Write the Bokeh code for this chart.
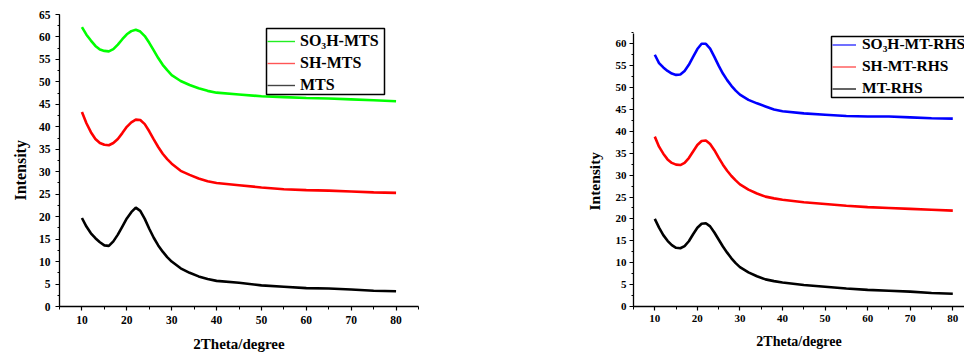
from bokeh.plotting import figure
from bokeh.layouts import row
from bokeh.models import Range1d, SingleIntervalTicker, FixedTicker, Legend, LegendItem, Title
from bokeh.embed import file_html
from bokeh.resources import INLINE

# ---------------- data ----------------
two_theta = [10, 11, 12, 13, 14, 15, 16, 17, 18, 19, 20, 21, 22, 23, 24, 25, 26, 27, 28, 29, 30,
             32, 34, 36, 38, 40, 45, 50, 55, 60, 65, 70, 75, 80]

so3h_mts = [62.2, 60.5, 59.2, 58.0, 57.2, 56.9, 56.8, 57.3, 58.3, 59.5, 60.6, 61.3, 61.6, 61.2, 60.2,
            58.7, 57.0, 55.3, 53.8, 52.6, 51.5, 50.2, 49.3, 48.6, 48.0, 47.6, 47.2, 46.8, 46.6, 46.4,
            46.3, 46.1, 45.9, 45.7]
sh_mts = [43.3, 40.8, 38.8, 37.3, 36.4, 36.0, 35.9, 36.4, 37.3, 38.6, 40.0, 41.0, 41.6, 41.5, 40.6,
          39.0, 37.2, 35.5, 34.0, 32.8, 31.8, 30.2, 29.3, 28.5, 27.9, 27.5, 27.0, 26.5, 26.1, 25.9,
          25.8, 25.6, 25.4, 25.3]
mts = [19.7, 17.8, 16.3, 15.2, 14.3, 13.6, 13.5, 14.5, 16.0, 17.8, 19.6, 21.0, 22.0, 21.3, 19.5,
       17.3, 15.3, 13.6, 12.2, 11.0, 10.0, 8.5, 7.5, 6.7, 6.1, 5.7, 5.3, 4.7, 4.4, 4.1, 4.0, 3.8,
       3.5, 3.4]

so3h_mt_rhs = [57.5, 55.6, 54.6, 53.8, 53.2, 52.9, 53.0, 53.8, 55.2, 57.0, 58.8, 60.0, 60.0, 58.9,
               57.0, 55.0, 53.2, 51.7, 50.4, 49.3, 48.4, 47.2, 46.4, 45.7, 45.0, 44.6, 44.1, 43.8,
               43.5, 43.4, 43.4, 43.2, 43.0, 42.9]
sh_mt_rhs = [38.8, 36.5, 34.9, 33.6, 32.8, 32.4, 32.3, 32.8, 33.9, 35.4, 36.9, 37.8, 37.9, 37.1,
             35.7, 34.0, 32.4, 31.0, 29.8, 28.8, 27.9, 26.7, 25.8, 25.1, 24.7, 24.4, 23.8, 23.4,
             23.0, 22.7, 22.5, 22.3, 22.1, 21.9]
mt_rhs = [20.0, 18.0, 16.3, 15.0, 14.0, 13.4, 13.3, 13.8, 14.9, 16.5, 18.0, 18.9, 19.0, 18.3, 16.9,
          15.3, 13.7, 12.3, 11.0, 9.9, 9.0, 7.8, 6.9, 6.2, 5.8, 5.5, 4.9, 4.5, 4.1, 3.8, 3.6, 3.4,
          3.1, 2.9]

left_labels = ["SO\u2083H-MTS", "SH-MTS", "MTS"]
right_labels = ["SO\u2083H-MT-RHS", "SH-MT-RHS", "MT-RHS"]
right_yticks = [0, 5, 10, 15, 20, 25, 30, 35, 40, 45, 50, 55, 60]
x_title = "2Theta/degree"
y_title = "Intensity"

FONT = "Liberation Serif"

# Both figures sit in one row, whose layout aligns their frames:
# common frame y = 14 .. 306 px.
TOP, BOTTOM, H = 14, 50, 356
FH = H - TOP - BOTTOM  # 292


def style(p, tick_size, lab_size, ylab_size, ystand, xstand, xlab_stand, ylab_off, ylab_stand):
    p.title.visible = False
    p.outline_line_color = None
    p.xgrid.visible = False
    p.ygrid.visible = False
    p.background_fill_color = "white"
    p.border_fill_color = "white"
    xa = p.xaxis[0]
    ya = p.yaxis[0]
    xa.ticker = SingleIntervalTicker(interval=10, num_minor_ticks=2)
    for a in (xa, ya):
        a.axis_line_color = "black"
        a.axis_line_width = 1.3
        a.major_tick_line_color = "black"
        a.minor_tick_line_color = "black"
        a.major_tick_line_width = 1.2
        a.minor_tick_line_width = 1.0
        a.major_tick_in = 0
        a.minor_tick_in = 0
        a.major_label_text_font = FONT
        a.major_label_text_font_style = "bold"
        a.major_label_text_font_size = tick_size
        a.major_label_text_color = "black"
        a.axis_label_text_font = FONT
        a.axis_label_text_font_style = "bold"
        a.axis_label_text_color = "black"
    xa.major_tick_out = 4
    xa.minor_tick_out = 3
    ya.major_tick_out = 4
    ya.minor_tick_out = 2
    ya.major_label_standoff = ystand
    xa.major_label_standoff = xstand
    xa.axis_label = x_title
    xa.axis_label_text_font_size = lab_size
    xa.axis_label_standoff = xlab_stand
    p.add_layout(Title(text=y_title, align="left", offset=ylab_off, standoff=ylab_stand,
                       text_font=FONT, text_font_style="bold", text_font_size=ylab_size,
                       text_color="black"), "left")


def add_legend(p, colors, labels, loc, fsize, gw, stand, lh, sp, box):
    # legend frame (drawn as a plain rectangle: layout position, not data)
    l, r, b, t = box
    p.quad(left=[l], right=[r], bottom=[b], top=[t], fill_color="white",
           line_color="black", line_width=1.5, level="overlay")
    items = []
    for c, lab in zip(colors, labels):
        rr = p.line([-50, -40], [-50, -50], line_color=c, line_width=1.4)
        items.append(LegendItem(label=lab, renderers=[rr]))
    lg = Legend(items=items, location=loc, orientation="vertical",
                label_text_font=FONT, label_text_font_style="bold",
                label_text_font_size=fsize, label_text_color="black",
                glyph_width=gw, glyph_height=lh, label_height=lh, label_standoff=stand,
                spacing=sp, padding=2, margin=0,
                border_line_color=None, background_fill_alpha=0.0)
    p.add_layout(lg, "center")


# ---------------- left figure ----------------
# frame: x 59..418 px (5..85), y 14..306 px (65..0)
p1 = figure(width=480, height=H, output_backend="svg", toolbar_location=None,
            x_range=Range1d(5, 85), y_range=Range1d(0, 65),
            min_border_left=59, min_border_right=62, min_border_top=TOP, min_border_bottom=BOTTOM)
style(p1, "11.5px", "15px", "16px", 5, 5, 9, 106, 14)
p1.yaxis[0].ticker = SingleIntervalTicker(interval=5, num_minor_ticks=2)
for ys, c in ((so3h_mts, "#00ff00"), (sh_mts, "#ff0000"), (mts, "#000000")):
    p1.line(two_theta, ys, line_color=c, line_width=2.6)
sx1, sy1 = 359 / 80.0, FH / 65.0
fb1 = TOP + FH
add_legend(p1, ["#22ee22", "#ff5555", "#444444"], left_labels, (208, fb1 - 94), "16px", 28, 5, 18, 4,
           (5 + (266 - 59) / sx1, 5 + (384 - 59) / sx1, (fb1 - 94) / sy1, (fb1 - 28) / sy1))

# ---------------- right figure ----------------
# frame: x 633..964 px (5..82.75); y scale so that 60 sits at 43 px
sy2 = (TOP + FH - 43.3) / 60.0
ymax2 = FH / sy2
p2 = figure(width=484, height=H, output_backend="svg", toolbar_location=None,
            x_range=Range1d(5, 82.75), y_range=Range1d(0, ymax2),
            min_border_left=153, min_border_right=0, min_border_top=TOP, min_border_bottom=BOTTOM)
style(p2, "11px", "14px", "15.5px", 3, 4, 9, 96, 19)
minor2 = [v + d for v in right_yticks for d in (0.0, 2.5)]
p2.yaxis[0].ticker = FixedTicker(ticks=right_yticks, minor_ticks=minor2)
p2.yaxis[0].bounds = (0, (TOP + FH - 32.7) / sy2)
for ys, c in ((so3h_mt_rhs, "#0000ff"), (sh_mt_rhs, "#ff0000"), (mt_rhs, "#000000")):
    p2.line(two_theta, ys, line_color=c, line_width=2.6)
sx2 = 331 / 77.75
fb2 = TOP + FH
add_legend(p2, ["#3333ff", "#ff5555", "#222222"], right_labels, (199, fb2 - 97), "15.5px", 24, 6, 17, 4,
           (5 + (831 - 633) / sx2, 95, (fb2 - 97) / sy2, (fb2 - 36) / sy2))

layout = row(p1, p2, spacing=0)
open("out.html", "w").write(file_html(layout, INLINE))
